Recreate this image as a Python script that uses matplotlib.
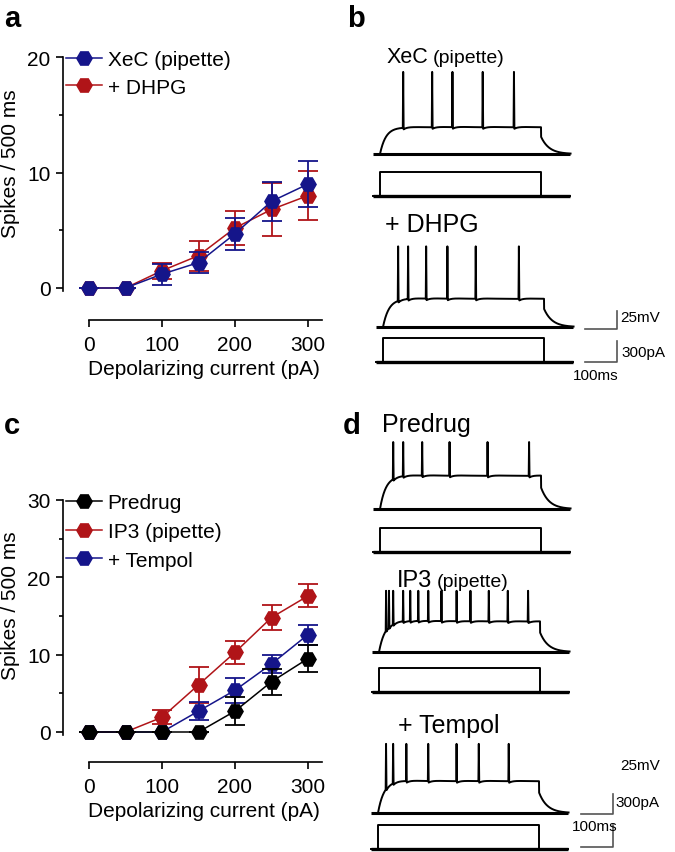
import numpy as np
import matplotlib
matplotlib.use("Agg")
import matplotlib.pyplot as plt
from matplotlib.lines import Line2D
from matplotlib.ticker import MultipleLocator, FixedLocator

plt.rcParams['font.family'] = ['Liberation Sans', 'DejaVu Sans']

# ---------------- data ----------------
currents = [0, 50, 100, 150, 200, 250, 300]

# panel a
xec_mean = [0, 0, 1.2, 2.2, 4.7, 7.5, 9.0]
xec_err = [0, 0, 0.9, 0.9, 1.4, 1.7, 2.0]
dhpg_mean = [0, 0, 1.5, 2.8, 5.2, 6.8, 8.0]
dhpg_err = [0, 0, 0.7, 1.3, 1.5, 2.3, 2.1]

# panel c
predrug_mean = [0, 0, 0, 0, 2.7, 6.5, 9.5]
predrug_err = [0, 0, 0, 0, 1.8, 1.7, 1.7]
ip3_mean = [0, 0, 1.9, 6.1, 10.3, 14.8, 17.6]
ip3_err = [0, 0, 0.9, 2.3, 1.5, 1.6, 1.5]
tempol_mean = [0, 0, 0, 2.7, 5.4, 8.8, 12.6]
tempol_err = [0, 0, 0, 1.2, 1.6, 1.2, 1.3]

# traces: spike times (ms after current-step onset), plateau and peak (mV above rest)
xec_spikes = [72, 162, 225, 319, 416]
dhpg_spikes = [47, 78, 134, 200, 288, 422]
predrug_spikes = [41, 72, 131, 216, 334, 463]
ip3_spikes = [22, 31, 44, 75, 97, 122, 153, 194, 241, 284, 341, 400, 463]
tempol_spikes = [25, 47, 88, 156, 244, 313, 406]
plateaus = {'xec': 37, 'dhpg': 39, 'predrug': 46, 'ip3': 42, 'tempol': 44}
peaks = {'xec': 114, 'dhpg': 112, 'predrug': 93, 'ip3': 85, 'tempol': 96}
step_pA = 300
step_ms = 500

BLUE = '#15158a'
RED = '#b01418'
BLACK = '#000000'

W, H = 675, 853
fig = plt.figure(figsize=(W / 100, H / 100), dpi=100)


def ax_px(left, top, right, bottom, **kw):
    return fig.add_axes([left / W, 1 - bottom / H, (right - left) / W, (bottom - top) / H], **kw)


FS = 15
MK = 'H'
MS = 11


def style_axes(ax, ymax, yminor):
    for s in ['top', 'right']:
        ax.spines[s].set_visible(False)
    ax.spines['left'].set_bounds(-0.3 * ymax / 20, ymax)
    ax.spines['bottom'].set_bounds(0, ax.get_xlim()[1])
    for s in ['left', 'bottom']:
        ax.spines[s].set_linewidth(1.2)
    ax.xaxis.set_major_locator(FixedLocator([0, 100, 200, 300]))
    ax.yaxis.set_major_locator(MultipleLocator(10))
    ax.yaxis.set_minor_locator(MultipleLocator(yminor))
    ax.tick_params(axis='both', which='major', length=5, width=1.2, labelsize=FS, direction='out')
    ax.tick_params(axis='x', pad=6)
    ax.tick_params(axis='y', pad=4)
    ax.tick_params(axis='y', which='minor', length=3, width=1.2)
    ax.set_xlabel('Depolarizing current (pA)', fontsize=FS)
    ax.set_ylabel('Spikes / 500 ms', fontsize=FS)
    ax.xaxis.set_label_coords(0.544, -0.145)
    ax.yaxis.set_label_coords(-0.165, 0.59)


def series(ax, mean, err, color, z):
    ax.errorbar(currents, mean, yerr=err, color=color, lw=1.1, marker=MK, ms=MS,
                mec=color, mfc=color, capsize=7, elinewidth=1.3, capthick=1.3,
                clip_on=False, zorder=z)


def legend(ax, items, x_px, top_px, spacing):
    handles = [Line2D([], [], color=c, lw=1.1, marker=MK, ms=MS, mfc=c, mec=c) for c, _ in items]
    labels = [l for _, l in items]
    ax.legend(handles, labels, loc='upper left', bbox_to_anchor=(x_px / W, 1 - top_px / H),
              bbox_transform=fig.transFigure, frameon=False, borderpad=0, borderaxespad=0,
              handlelength=1.75, handletextpad=0.25, labelspacing=spacing, fontsize=FS)


# ---------------- panel a ----------------
sx = (308 - 89) / 300.0
ax_a = ax_px(63, 54, 322, 321)
ax_a.set_xlim(-(89 - 63) / sx, 300 + (322 - 308) / sx)
sy = (289 - 58) / 20.0
ax_a.set_ylim(-(321 - 289) / sy, 20 + (58 - 54) / sy)
series(ax_a, dhpg_mean, dhpg_err, RED, 3)
series(ax_a, xec_mean, xec_err, BLUE, 4)
style_axes(ax_a, 20, 5)
legend(ax_a, [(BLUE, 'XeC (pipette)'), (RED, '+ DHPG')], 66, 51, 0.42)

# ---------------- panel c ----------------
ax_c = ax_px(63, 497, 322, 763)
ax_c.set_xlim(-(89 - 63) / sx, 300 + (322 - 308) / sx)
syc = (733 - 501) / 30.0
ax_c.set_ylim(-(763 - 733) / syc, 30 + (501 - 497) / syc)
series(ax_c, ip3_mean, ip3_err, RED, 3)
series(ax_c, tempol_mean, tempol_err, BLUE, 4)
series(ax_c, predrug_mean, predrug_err, BLACK, 5)
style_axes(ax_c, 30, 5)
legend(ax_c, [(BLACK, 'Predrug'), (RED, 'IP3 (pipette)'), (BLUE, '+ Tempol')], 66, 494, 0.47)

# ---------------- traces ----------------
PX_MS = 0.322          # px per ms
MV_PX = 25 / 18.0      # mV per px
PA_PX = 12.5           # pA per px


def voltage(t, spikes, plateau, peak):
    v = np.zeros_like(t)
    on = (t >= 0) & (t < step_ms)
    v[on] = plateau * (1 - np.exp(-t[on] / 18.0))
    off = t >= step_ms
    v[off] = 0.65 * plateau * np.exp(-(t[off] - step_ms) / 25.0)
    for ts in spikes:
        m = (t > ts) & (t < step_ms)
        v[m] -= 4 * np.exp(-(t[m] - ts) / 12.0) - 1.5 * np.exp(-(t[m] - ts) / 40.0)
    for ts in spikes:
        base = np.interp(ts, t, v)
        tri = base + (peak - base) * np.clip(1 - np.abs(t - ts) / 1.2, 0, 1)
        v = np.maximum(v, np.where(np.abs(t - ts) < 1.2, tri, -1e9))
    return v


def trace_pair(onset_px, vbase_px, cbase_px, spikes, key):
    t = np.arange(-15, 592, 0.2)
    xl = (-(onset_px - 370) / PX_MS, (W - onset_px) / PX_MS)
    axv = ax_px(370, vbase_px - 95, W, vbase_px + 8)
    axv.set_xlim(*xl)
    axv.set_ylim(-8 * MV_PX, 95 * MV_PX)
    axv.axis('off')
    axv.plot([-22, 590], [0, 0], color='black', lw=2.2, solid_capstyle='butt')
    axv.plot(t, voltage(t, spikes, plateaus[key], peaks[key]), color='black', lw=1.4)
    axc = ax_px(370, cbase_px - 32, W, cbase_px + 6)
    axc.set_xlim(*xl)
    axc.set_ylim(-6 * PA_PX, 32 * PA_PX)
    axc.axis('off')
    tc = np.array([-22, 0, 0, step_ms, step_ms, 590])
    ic = np.array([0, 0, step_pA, step_pA, 0, 0])
    axc.plot(tc, ic, color='black', lw=1.4)
    axc.plot([-22, 590], [0, 0], color='black', lw=2.4, solid_capstyle='butt')
    return axv, axc


trace_pair(380, 155, 197, xec_spikes, 'xec')
bv, bc = trace_pair(383, 328, 363, dhpg_spikes, 'dhpg')
trace_pair(380, 510, 553, predrug_spikes, 'predrug')
trace_pair(379, 653, 693, ip3_spikes, 'ip3')
dv, dc = trace_pair(378, 814, 850, tempol_spikes, 'tempol')

SB = '#555555'
# scale bars panel b
bv.plot([627, 727, 727], [-2 * MV_PX, -2 * MV_PX, 25 - 2 * MV_PX], color=SB, lw=1.2, clip_on=False)
bc.plot([627, 727, 727], [0, 0, step_pA * 21 / 24], color=SB, lw=1.2, clip_on=False)
# scale bars panel d
dv.plot([630, 730, 730], [-1 * MV_PX, -1 * MV_PX, 27], color=SB, lw=1.2, clip_on=False)
dc.plot([630, 730, 730], [2 * PA_PX, 2 * PA_PX, step_pA], color=SB, lw=1.2, clip_on=False)


def ftext(x, y, s, size, **kw):
    kw.setdefault('va', 'baseline')
    fig.text(x / W, 1 - y / H, s, fontsize=size, **kw)


# scale bar labels
ftext(620, 318, '25mV', 11, va='center')
ftext(621, 353, '300pA', 11, va='center')
ftext(573, 376, '100ms', 11, va='center')
ftext(620, 766, '25mV', 11, va='center')
ftext(615, 803, '300pA', 11, va='center')
ftext(572, 827, '100ms', 11, va='center')

# trace titles
ftext(387, 63, 'XeC', 15.5)
ftext(433, 63, '(pipette)', 14)
ftext(385, 232, '+ DHPG', 18)
ftext(382, 432, 'Predrug', 18)
ftext(397, 587, 'IP3', 17)
ftext(437, 587, '(pipette)', 14)
ftext(398, 733, '+ Tempol', 18)

# panel letters
for (x, y, s) in [(4, 27, 'a'), (347, 27, 'b'), (4, 434, 'c'), (343, 434, 'd')]:
    ftext(x, y, s, 21, fontweight='bold')

fig.savefig('out.png', dpi=100)
